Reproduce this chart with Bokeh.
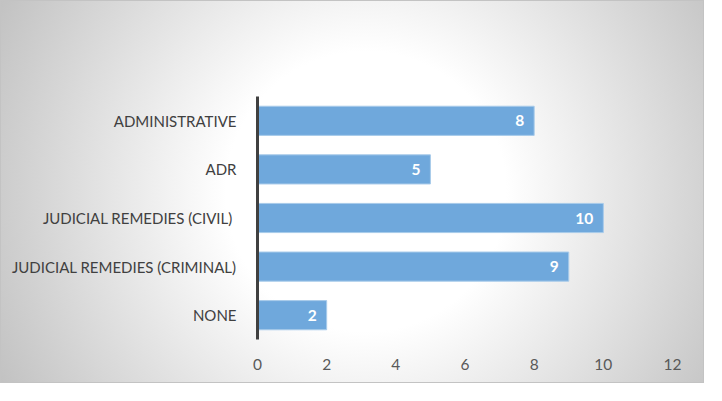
from bokeh.plotting import figure
from bokeh.models import FactorRange, Range1d, FixedTicker, ColumnDataSource
from bokeh.core.properties import value
from bokeh.embed import file_html
from bokeh.resources import INLINE

categories = ["ADMINISTRATIVE", "ADR", "JUDICIAL REMEDIES (CIVIL) ",
              "JUDICIAL REMEDIES (CRIMINAL)", "NONE"]
counts = [8, 5, 10, 9, 2]
x_ticks = [0, 2, 4, 6, 8, 10, 12]

FONT = "Lato"

src = ColumnDataSource(dict(cat=categories, val=counts,
                            lbl=[str(v) for v in counts]))

p = figure(width=704, height=383, output_backend="svg", toolbar_location=None,
           y_range=FactorRange(*list(reversed(categories))),
           x_range=Range1d(0, 12),
           min_border_left=256, min_border_right=33,
           min_border_top=95, min_border_bottom=45)

p.styles = {
    "border": "1px solid #c3c3c3",
    "background": "radial-gradient(circle farthest-corner at 52% 50%, #ffffff 34%, #c2c2c2 100%)",
}
p.border_fill_alpha = 0
p.background_fill_alpha = 0
p.outline_line_color = None
p.grid.visible = False

p.hbar(y="cat", right="val", left=0, height=0.6, source=src,
       fill_color="#6FA8DC", line_color="#a8cbea", line_width=1)

p.text(x="val", y="cat", text="lbl", source=src, x_offset=-10,
       text_align="right", text_baseline="middle",
       text_color="white", text_font=value(FONT), text_font_style="bold",
       text_font_size="15.5px")

xa = p.xaxis[0]
xa.ticker = FixedTicker(ticks=x_ticks)
xa.axis_line_color = None
xa.major_tick_line_color = None
xa.minor_tick_line_color = None
xa.major_label_text_font = FONT
xa.major_label_text_font_size = "15.5px"
xa.major_label_text_color = "#595959"
xa.major_label_standoff = 13

ya = p.yaxis[0]
ya.axis_line_color = "#404040"
ya.axis_line_width = 3
ya.major_tick_line_color = None
ya.minor_tick_line_color = None
ya.major_label_text_font = FONT
ya.major_label_text_font_size = "15px"
ya.major_label_text_color = "#404040"
ya.major_label_standoff = 15

open("out.html", "w").write(file_html(p, INLINE))
